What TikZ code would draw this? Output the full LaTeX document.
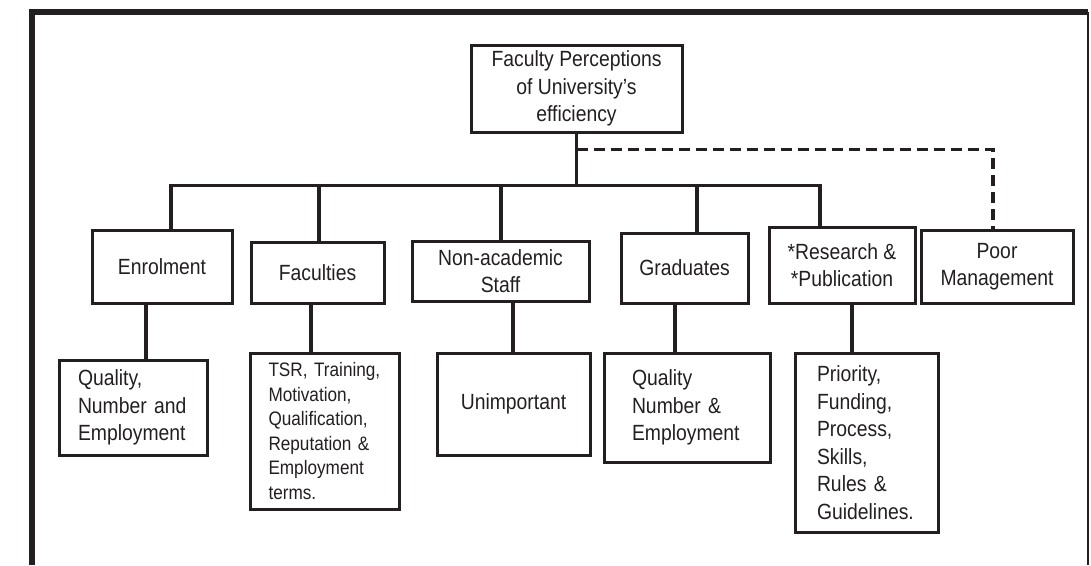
\documentclass[tikz,border=0pt]{standalone}
\usepackage{fontspec}
\setmainfont{Liberation Sans}[FakeStretch=0.88]
\definecolor{ink}{HTML}{231F20}

\begin{document}
\begin{tikzpicture}[x=1pt,y=-1pt,
  box/.style={draw=ink, text=ink, line width=3pt, inner sep=0pt, align=center,
    font=\fontsize{22}{27.5}\selectfont},
  sub/.style={box, align=left},
  conn/.style={draw=ink, line width=3.5pt},
  dashline/.style={draw=ink, line width=3.5pt, dash pattern=on 11pt off 6pt}]
\useasboundingbox (0,0) rectangle (1091,565);
% frame round the chart
\draw[ink, line width=6pt] (32,565) -- (32,12) -- (1088,12);
\draw[ink, line width=1.5pt] (1088,12) -- (1088,565);

% top box
\node[box, minimum width=211, minimum height=87] (top) at (576.5,88.5)
  {Faculty Perceptions\\of University's\\efficiency};

% first row
\node[box, minimum width=140, minimum height=73] (enrol) at (162,266.5) {Enrolment};
\node[box, minimum width=133, minimum height=61] (fac) at (317.5,272.5) {Faculties};
\node[box, minimum width=177, minimum height=60] (nonacad) at (500.5,271) {Non-academic\\Staff};
\node[box, minimum width=127, minimum height=70] (grad) at (684.5,268) {Graduates};
\node[box, minimum width=146, minimum height=76] (research) at (842,265) {*Research \&\\*Publication};
\node[box, minimum width=152, minimum height=73] (poor) at (997,266.5) {Poor\\Management};

% second row
\node[sub, inner xsep=19pt, text width=110pt, minimum height=95] (enrolsub) at (133,407.5)
  {Quality,\\Number and\\Employment};
\node[sub, inner xsep=18.5pt, text width=112pt, minimum height=156,
  font=\fontsize{19.5}{24.5}\selectfont] (facsub) at (324.5,431)
  {TSR, Training,\\Motivation,\\Qualification,\\Reputation \&\\Employment\\terms.};
\node[box, minimum width=153, minimum height=102] (unimp) at (513.5,404) {Unimportant};
\node[sub, inner xsep=28pt, text width=110pt, minimum height=109] (gradsub) at (687,407.5)
  {Quality\\Number \&\\Employment};
\node[sub, inner xsep=22pt, text width=99pt, minimum height=179] (ressub) at (866.5,442.5)
  {Priority,\\Funding,\\Process,\\Skills,\\Rules \&\\Guidelines.};

% tree lines
\coordinate (bus) at ([yshift=-52pt]top.south);
\draw[conn] (top.south) -- (bus);
\foreach \a/\s in {enrol/9, fac/1.5, nonacad/0.5, grad/12.5, research/-22}
  \draw[conn] ([xshift=\s pt]\a.north) |- (bus);
\foreach \a/\b/\s in {enrol/enrolsub/-16, fac/facsub/-6.5, nonacad/unimp/12.5,
    grad/gradsub/-9.5, research/ressub/10}
  \draw[conn] ([xshift=\s pt]\a.south) -- ([xshift=\s pt]\a.south |- \b.north);
\draw[dashline] ([yshift=-16pt]top.south) -| ([xshift=-4pt]poor.north);
\end{tikzpicture}
\end{document}
